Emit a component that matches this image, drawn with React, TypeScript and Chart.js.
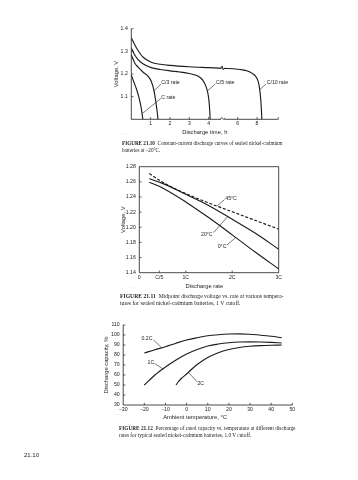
import { useEffect, useRef } from "react";
import { Chart, registerables } from "chart.js";

Chart.register(...registerables);

const SANS = "'Liberation Sans', Arial, sans-serif";
const SERIF = "'Liberation Serif', 'Times New Roman', serif";
const INK = "#1c1c1c";

// ---------------- FIGURE 21.10 (discharge time, h / voltage, V) ----------------
const f10TickHours = [1, 2, 3, 4, 6, 8];
const f10TickHourLabels = ["1", "2", "3", "4", "6", "8"];
const f10TickVolts = [1.1, 1.2, 1.3, 1.4];
const f10TickVoltLabels = ["1.1", "1.2", "1.3", "1.4"];

const f10HoursC = [0, 0.1, 0.2, 0.3, 0.4, 0.48, 0.54, 0.58, 0.6];
const f10VoltC = [1.195, 1.172, 1.15, 1.125, 1.095, 1.065, 1.035, 1.01, 1.0];

const f10HoursC3 = [0, 0.17, 0.34, 0.6, 0.86, 1.03, 1.17, 1.27, 1.34, 1.38];
const f10VoltC3 = [1.285, 1.25, 1.231, 1.209, 1.191, 1.168, 1.128, 1.076, 1.032, 1.0];

const f10HoursC5 = [0, 0.17, 0.34, 0.6, 1.03, 1.5, 2.0, 2.5, 3.0, 3.44, 3.7, 3.87, 3.97, 4.03, 4.08, 4.1];
const f10VoltC5 = [1.315, 1.285, 1.265, 1.245, 1.228, 1.22, 1.214, 1.209, 1.202, 1.191, 1.172, 1.143, 1.11, 1.076, 1.03, 1.0];

const f10HoursC10 = [0, 0.17, 0.34, 0.6, 1.03, 1.5, 2.0, 3.0, 4.0, 5.0, 6.0, 6.5, 7.0, 7.3, 7.6, 7.85, 8.1, 8.25, 8.38, 8.45, 8.5];
const f10VoltC10 = [1.36, 1.33, 1.305, 1.275, 1.252, 1.243, 1.238, 1.232, 1.228, 1.225, 1.221, 1.218, 1.213, 1.208, 1.2, 1.19, 1.17, 1.14, 1.09, 1.045, 1.0];

// ---------------- FIGURE 21.11 (discharge rate / voltage, V) ----------------
const f11TickRates = [0, 0.43, 1, 2, 3];
const f11TickRateLabels = ["0", "C/5", "1C", "2C", "3C"];
const f11TickVolts = [1.14, 1.16, 1.18, 1.2, 1.22, 1.24, 1.26, 1.28];
const f11TickVoltLabels = ["1.14", "1.16", "1.18", "1.20", "1.22", "1.24", "1.26", "1.28"];

const f11Rates = [0.215, 0.5, 1.0, 1.5, 2.0, 2.5, 3.0];
const f11Volt45 = [1.271, 1.2595, 1.2445, 1.232, 1.2205, 1.209, 1.1975];
const f11Volt20 = [1.264, 1.258, 1.2435, 1.2285, 1.2105, 1.192, 1.171];
const f11Volt0 = [1.2595, 1.252, 1.2335, 1.2125, 1.19, 1.167, 1.145];

// ---------------- FIGURE 21.12 (ambient temperature, °C / capacity, %) ----------------
const f12TickTemps = [-30, -20, -10, 0, 10, 20, 30, 40, 50];
const f12TickTempLabels = ["\u221230", "\u221220", "\u221210", "0", "10", "20", "30", "40", "50"];
const f12TickCaps = [30, 40, 50, 60, 70, 80, 90, 100, 110];
const f12TickCapLabels = ["30", "40", "50", "60", "70", "80", "90", "100", "110"];

const f12Temps = [-20, -15, -10, -5, 0, 5, 10, 15, 20, 25, 30, 35, 40, 45];
const f12Cap02C = [82, 85.3, 88.3, 91.8, 95, 97.3, 99.2, 100.3, 101, 101.2, 100.7, 99.8, 98.7, 97.3];
const f12Cap1C = [50, 60, 68, 75, 81, 85.5, 89, 91, 92.3, 93, 93.2, 93, 92.6, 92];
const f12Temps2C = [-5, -4, -2.5, 0, 2.5, 5, 10, 15, 20, 25, 30, 35, 40, 45];
const f12Cap2C = [50, 53, 56.5, 61, 66, 70.5, 77.5, 82.3, 85.5, 87.5, 88.7, 89.4, 89.8, 90];

// ---------------- types ----------------
type Series = { xs: number[]; ys: number[]; dash?: number[] };
type Note = { text: string; tx: number; ty: number; x1: number; y1: number; x2: number; y2: number };
type Spec = {
  left: number; top: number; width: number; height: number;
  yAxisWidth: number; xAxisHeight: number; padTop: number; padRight: number;
  xMin: number; xMax: number; yMin: number; yMax: number;
  xTicks: number[]; xLabels: string[]; yTicks: number[]; yLabels: string[];
  xMarks: number[]; yMarks: number[];
  xTitle: string; yTitle: string; xTitlePad: number; yTitlePad: number;
  xTitleAt?: number;
  series: Series[]; notes: Note[]; frame: boolean;
  xMap?: (v: number) => number;
  extra?: (chart: any, px: (v: number) => number, py: (v: number) => number) => void;
};

// broken time axis: 0-4 h linear, compressed gap, 6-10 h at half scale
function brokenHours(t: number): number {
  if (t <= 4) return t;
  if (t <= 6) return 4 + (t - 4) * 0.75;
  return 5.5 + (t - 6) * 0.5;
}

const TITLE_SIZE = 5.8;

function drawDecor(chart: any, spec: Spec) {
  const { ctx, chartArea: a, scales } = chart;
  const map = spec.xMap || ((v: number) => v);
  const px = (v: number) => scales.x.getPixelForValue(map(v));
  const py = (v: number) => scales.y.getPixelForValue(v);
  ctx.save();
  ctx.strokeStyle = INK;
  ctx.lineWidth = 0.8;
  ctx.beginPath();
  if (spec.frame) {
    ctx.rect(a.left, a.top, a.right - a.left, a.bottom - a.top);
  } else {
    ctx.moveTo(a.left, a.top);
    ctx.lineTo(a.left, a.bottom);
    ctx.lineTo(a.right, a.bottom);
  }
  ctx.stroke();
  ctx.lineWidth = 0.7;
  ctx.beginPath();
  for (const v of spec.xMarks) {
    const x = px(v);
    ctx.moveTo(x, a.bottom);
    ctx.lineTo(x, a.bottom - 2.2);
  }
  for (const v of spec.yMarks) {
    const y = py(v);
    ctx.moveTo(a.left, y);
    ctx.lineTo(a.left + 2.2, y);
  }
  ctx.stroke();
  ctx.font = `5.2px ${SANS}`;
  ctx.fillStyle = INK;
  ctx.textBaseline = "middle";
  ctx.textAlign = "left";
  ctx.lineWidth = 0.6;
  for (const n of spec.notes) {
    ctx.beginPath();
    ctx.moveTo(px(n.x1), py(n.y1));
    ctx.lineTo(px(n.x2), py(n.y2));
    ctx.stroke();
    ctx.fillText(n.text, px(n.tx), py(n.ty));
  }
  if (spec.xTitleAt !== undefined) {
    ctx.font = `${TITLE_SIZE}px ${SANS}`;
    ctx.textAlign = "center";
    ctx.fillText(spec.xTitle, px(spec.xTitleAt), chart.height - spec.xTitlePad - (TITLE_SIZE * 1.2) / 2);
  }
  if (spec.extra) spec.extra(chart, px, py);
  ctx.restore();
}

function Plot({ spec }: { spec: Spec }) {
  const ref = useRef<HTMLCanvasElement | null>(null);
  useEffect(() => {
    if (!ref.current) return;
    const map = spec.xMap || ((v: number) => v);
    const chart = new Chart(ref.current, {
      type: "line",
      data: {
        datasets: spec.series.map((s) => ({
          data: s.xs.map((x, i) => ({ x: map(x), y: s.ys[i] })),
          borderColor: INK,
          borderWidth: 1.15,
          borderDash: s.dash || [],
          pointRadius: 0,
          fill: false,
          cubicInterpolationMode: "monotone" as const,
        })),
      },
      options: {
        animation: false,
        responsive: false,
        events: [],
        layout: { padding: { top: spec.padTop, right: spec.padRight, left: 0, bottom: 0 } },
        plugins: { legend: { display: false }, tooltip: { enabled: false } },
        scales: {
          x: {
            type: "linear",
            min: spec.xMin,
            max: spec.xMax,
            afterBuildTicks: (s: any) => {
              s.ticks = spec.xTicks.map((v) => ({ value: map(v) }));
            },
            afterFit: (s: any) => {
              s.height = spec.xAxisHeight;
              s.paddingLeft = 0;
              s.paddingRight = 0;
            },
            ticks: {
              autoSkip: false,
              maxRotation: 0,
              minRotation: 0,
              padding: 1.3,
              color: INK,
              font: { family: SANS, size: 5.2 },
              callback: (_v: any, i: number) => spec.xLabels[i],
            },
            grid: { display: false, drawTicks: false },
            border: { display: false },
            title: {
              display: spec.xTitleAt === undefined,
              text: spec.xTitle,
              color: INK,
              font: { family: SANS, size: TITLE_SIZE },
              padding: { top: 0, bottom: spec.xTitlePad },
            },
          },
          y: {
            type: "linear",
            min: spec.yMin,
            max: spec.yMax,
            afterBuildTicks: (s: any) => {
              s.ticks = spec.yTicks.map((v) => ({ value: v }));
            },
            afterFit: (s: any) => {
              s.width = spec.yAxisWidth;
              s.paddingTop = 0;
              s.paddingBottom = 0;
            },
            ticks: {
              autoSkip: false,
              padding: 3.5,
              color: INK,
              font: { family: SANS, size: 5.2 },
              callback: (_v: any, i: number) => spec.yLabels[i],
            },
            grid: { display: false, drawTicks: false },
            border: { display: false },
            title: {
              display: true,
              text: spec.yTitle,
              color: INK,
              font: { family: SANS, size: TITLE_SIZE },
              padding: { top: spec.yTitlePad, bottom: 0 },
            },
          },
        },
      },
      plugins: [{ id: "decor", afterDraw: (c: any) => drawDecor(c, spec) }],
    } as any);
    return () => chart.destroy();
  }, [spec]);
  return (
    <canvas
      ref={ref}
      width={spec.width}
      height={spec.height}
      style={{ position: "absolute", left: spec.left, top: spec.top, width: spec.width, height: spec.height }}
    />
  );
}

const spec10: Spec = {
  left: 100, top: 22, width: 200, height: 118,
  yAxisWidth: 31.3, xAxisHeight: 20.7, padTop: 6.7, padRight: 21.7,
  xMin: 0, xMax: 7.6, yMin: 1.0, yMax: 1.4,
  xTicks: f10TickHours, xLabels: f10TickHourLabels, yTicks: f10TickVolts, yLabels: f10TickVoltLabels,
  xMarks: [...f10TickHours, 10.2], yMarks: f10TickVolts,
  xTitle: "Discharge time, h", yTitle: "Voltage, V", xTitlePad: 4.2, yTitlePad: 12.5,
  xMap: brokenHours,
  series: [
    { xs: f10HoursC, ys: f10VoltC },
    { xs: f10HoursC3, ys: f10VoltC3 },
    { xs: f10HoursC5, ys: f10VoltC5 },
    { xs: f10HoursC10, ys: f10VoltC10 },
  ],
  notes: [
    { text: "C/3 rate", tx: 1.55, ty: 1.1616, x1: 1.53, y1: 1.155, x2: 1.16, y2: 1.125 },
    { text: "C rate", tx: 1.55, ty: 1.098, x1: 1.53, y1: 1.092, x2: 0.565, y2: 1.025 },
    { text: "C/5 rate", tx: 4.507, ty: 1.16, x1: 4.467, y1: 1.156, x2: 3.93, y2: 1.125 },
    { text: "C/10 rate", tx: 9.0, ty: 1.16, x1: 8.94, y1: 1.156, x2: 8.26, y2: 1.13 },
  ],
  frame: false,
  extra: (chart, px, py) => {
    const { ctx, chartArea: a } = chart;
    const x = px(4.96);
    // break on the axis
    ctx.fillStyle = "#fff";
    ctx.fillRect(x - 1.6, a.bottom - 1, 3.2, 2);
    ctx.strokeStyle = INK;
    ctx.lineWidth = 0.7;
    ctx.beginPath();
    ctx.moveTo(x - 2.4, a.bottom);
    ctx.lineTo(x - 0.8, a.bottom - 1.8);
    ctx.lineTo(x + 0.8, a.bottom + 0.2);
    ctx.lineTo(x + 2.4, a.bottom - 1.4);
    ctx.stroke();
    // break on the C/10 curve
    const y = py(1.2255);
    ctx.fillStyle = "#fff";
    ctx.fillRect(x - 1.2, y - 1, 2.4, 2);
    ctx.lineWidth = 0.9;
    ctx.beginPath();
    ctx.moveTo(x - 1.8, y);
    ctx.lineTo(x - 0.5, y - 2.2);
    ctx.lineTo(x + 0.5, y + 1.6);
    ctx.lineTo(x + 1.8, y);
    ctx.stroke();
  },
};

const spec11: Spec = {
  left: 100, top: 160, width: 200, height: 132,
  yAxisWidth: 39.3, xAxisHeight: 19.3, padTop: 6.7, padRight: 21.3,
  xMin: 0, xMax: 3, yMin: 1.14, yMax: 1.28,
  xTicks: f11TickRates, xLabels: f11TickRateLabels, yTicks: f11TickVolts, yLabels: f11TickVoltLabels,
  xMarks: [0.43, 1, 2], yMarks: f11TickVolts.slice(1, -1),
  xTitle: "Discharge rate", yTitle: "Voltage, V", xTitlePad: 1.8, yTitlePad: 19.8,
  xTitleAt: 1.4,
  series: [
    { xs: f11Rates, ys: f11Volt45, dash: [3, 1.8] },
    { xs: f11Rates, ys: f11Volt20 },
    { xs: f11Rates, ys: f11Volt0 },
  ],
  notes: [
    { text: "45\u00b0C", tx: 1.85, ty: 1.2383, x1: 1.835, y1: 1.2365, x2: 1.68, y2: 1.2285 },
    { text: "20\u00b0C", tx: 1.328, ty: 1.1898, x1: 1.6, y1: 1.193, x2: 1.902, y2: 1.2142 },
    { text: "0\u00b0C", tx: 1.687, ty: 1.1744, x1: 1.887, y1: 1.1766, x2: 2.081, y2: 1.1866 },
  ],
  frame: true,
};

const spec12: Spec = {
  left: 88, top: 318, width: 215, height: 104,
  yAxisWidth: 35.2, xAxisHeight: 17, padTop: 7, padRight: 10.7,
  xMin: -30, xMax: 50, yMin: 30, yMax: 110,
  xTicks: f12TickTemps, xLabels: f12TickTempLabels, yTicks: f12TickCaps, yLabels: f12TickCapLabels,
  xMarks: f12TickTemps.slice(1), yMarks: f12TickCaps.slice(1),
  xTitle: "Ambient temperature, \u00b0C", yTitle: "Discharge capacity, %", xTitlePad: 1.5, yTitlePad: 15.2,
  xTitleAt: 4,
  series: [
    { xs: f12Temps, ys: f12Cap02C },
    { xs: f12Temps, ys: f12Cap1C },
    { xs: f12Temps2C, ys: f12Cap2C },
  ],
  notes: [
    { text: "0.2C", tx: -21.35, ty: 96, x1: -15.6, y1: 95, x2: -11.9, y2: 87.4 },
    { text: "1C", tx: -18.5, ty: 72.3, x1: -15.1, y1: 71.5, x2: -11.1, y2: 66 },
    { text: "2C", tx: 5.1, ty: 51.7, x1: 4.97, y1: 53.3, x2: 1.1, y2: 62 },
  ],
  frame: false,
};

let measureCtx: CanvasRenderingContext2D | null = null;
function fitSize(label: string, rest: string, target: number): number {
  if (!measureCtx) measureCtx = document.createElement("canvas").getContext("2d");
  const c = measureCtx!;
  c.font = `bold 10px ${SERIF}`;
  let w = c.measureText(label).width;
  c.font = `10px ${SERIF}`;
  w += c.measureText(rest).width;
  return (10 * target) / w;
}

function Caption(props: { left: number; y: number; width: number; gap: number; label: string; first: string; second: string }) {
  const size = fitSize(props.label, props.first, props.width);
  const base: any = {
    position: "absolute",
    left: props.left,
    whiteSpace: "pre",
    fontFamily: SERIF,
    fontSize: size,
    lineHeight: 1,
    color: INK,
  };
  return (
    <>
      <div style={{ ...base, top: props.y - size / 2 }}>
        <b>{props.label}</b>
        {props.first}
      </div>
      <div style={{ ...base, top: props.y + props.gap - size / 2 }}>{props.second}</div>
    </>
  );
}

function Dots(props: { left: number; top: number }) {
  return (
    <div style={{ position: "absolute", left: props.left, top: props.top, fontFamily: SANS, fontSize: 5, lineHeight: 1, color: "#b5b5b5", letterSpacing: 0.6 }}>
      {"\u00b7\u00b7\u00b7"}
    </div>
  );
}

export default function App() {
  return (
    <div style={{ position: "absolute", left: 0, top: 0, width: 358, height: 480, background: "#fff", overflow: "hidden" }}>
      <Plot spec={spec10} />
      <Dots left={122} top={131} />
      <Caption left={122} y={143.5} width={161} gap={7} label="FIGURE 21.10" first={"  Constant-current discharge curves of sealed nickel-cadmium"} second={"batteries at \u201320\u00b0C."} />
      <Plot spec={spec11} />
      <Dots left={127} top={285} />
      <Caption left={120} y={297} width={164} gap={7} label="FIGURE 21.11" first={"  Midpoint discharge voltage vs. rate at various tempera-"} second={"tures for sealed nickel-cadmium batteries, 1 V cutoff."} />
      <Plot spec={spec12} />
      <Dots left={114} top={412} />
      <Caption left={119} y={429} width={177} gap={7} label="FIGURE 21.12" first={"  Percentage of rated capacity vs. temperature at different discharge"} second={"rates for typical sealed nickel-cadmium batteries, 1.0 V cutoff."} />
      <div style={{ position: "absolute", left: 24, top: 452, fontFamily: SANS, fontSize: 6, lineHeight: 1, color: INK }}>21.10</div>
    </div>
  );
}
